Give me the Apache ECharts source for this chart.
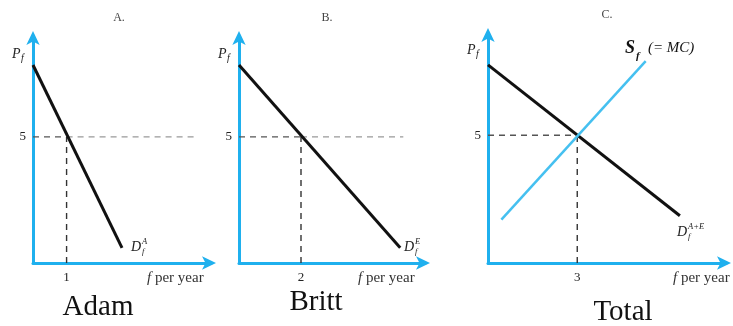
<!DOCTYPE html>
<html>
<head>
<meta charset="utf-8">
<script src="https://cdn.jsdelivr.net/npm/echarts@6/dist/echarts.min.js"></script>
<style>
html,body{margin:0;padding:0;background:#fff;}
#chart{width:733px;height:326px;}
</style>
</head>
<body>
<div id="chart"></div>
<script>
// Panel data
const panelTitles = ['A.', 'B.', 'C.'];
const panelNames = ['Adam', 'Britt', 'Total'];
const priceTick = 5;
const quantityTicks = [1, 2, 3];
// Demand curves [quantity, price]
const demandAdam = [[0, 7.85], [2.65, 0.6]];
const demandBritt = [[0, 7.85], [5.2, 0.6]];
const demandTotal = [[0, 7.75], [6.45, 1.85]];
// Supply curve (= MC)
const supplyTotal = [[0.45, 1.7], [5.3, 7.9]];
// Reference (dashed) guides
const guideAdamH = [[0, 5], [1, 5]];
const guideAdamHfar = [[1, 5], [4.9, 5]];
const guideAdamV = [[1, 0], [1, 5]];
const guideBrittH = [[0, 5], [2, 5]];
const guideBrittHfar = [[2, 5], [5.3, 5]];
const guideBrittV = [[2, 0], [2, 5]];
const guideTotalH = [[0, 5], [3, 5]];
const guideTotalV = [[3, 0], [3, 5]];

const AXIS = '#1fb0ee';
const SUPPLY = '#45c0f0';
const SERIF = '"Liberation Serif","DejaVu Serif",serif';

const chart = echarts.init(document.getElementById('chart'));

const grids = [
  {left: 33, top: 36, width: 178, height: 227},
  {left: 239, top: 36, width: 186, height: 227},
  {left: 488, top: 33, width: 238, height: 230}
];
const xMax = [5.3, 6, 8];

function xAx(i) {
  const t = quantityTicks[i];
  return {
    type: 'value', gridIndex: i, min: 0, max: xMax[i], interval: t,
    axisLine: {show: true, onZero: false, lineStyle: {color: AXIS, width: 3},
      symbol: ['none', 'arrow'], symbolSize: [10, 14], symbolOffset: [0, 5]},
    axisTick: {show: false}, splitLine: {show: false},
    axisLabel: {margin: 8, color: '#222', fontFamily: SERIF, fontSize: 13,
      formatter: v => (Math.abs(v - t) < 1e-9 ? String(t) : '')}
  };
}
function yAx(i) {
  return {
    type: 'value', gridIndex: i, min: 0, max: 9, interval: priceTick,
    axisLine: {show: true, onZero: false, lineStyle: {color: AXIS, width: 3},
      symbol: ['none', 'arrow'], symbolSize: [10, 14], symbolOffset: [0, 5]},
    axisTick: {show: false}, splitLine: {show: false},
    axisLabel: {margin: 7, color: '#222', fontFamily: SERIF, fontSize: 13,
      formatter: v => (v === priceTick ? String(priceTick) : '')}
  };
}

function line(i, data, color, width, type, z) {
  return {
    type: 'line', xAxisIndex: i, yAxisIndex: i, data: data,
    symbol: 'none', silent: true, z: z || 2,
    lineStyle: {color: color, width: width, type: type || 'solid'}
  };
}
const DASH = [6, 5];

const series = [
  line(0, guideAdamH, '#555', 1.4, DASH),
  line(0, guideAdamHfar, '#999', 1.4, DASH),
  line(0, guideAdamV, '#333', 1.4, DASH),
  line(0, demandAdam, '#111', 3, 'solid', 3),
  line(1, guideBrittH, '#555', 1.4, DASH),
  line(1, guideBrittHfar, '#999', 1.4, DASH),
  line(1, guideBrittV, '#333', 1.4, DASH),
  line(1, demandBritt, '#111', 3, 'solid', 3),
  line(2, guideTotalH, '#555', 1.4, DASH),
  line(2, guideTotalV, '#333', 1.4, DASH),
  line(2, demandTotal, '#111', 3, 'solid', 3),
  line(2, supplyTotal, SUPPLY, 2.5, 'solid', 4)
];

function txt(x, y, text, size, opts) {
  return Object.assign({
    type: 'text', x: x, y: y, silent: true,
    style: Object.assign({text: text, fontFamily: SERIF, fontSize: size, fill: '#222',
      align: 'center', verticalAlign: 'middle'}, (opts && opts.style) || {})
  }, opts && opts.el || {});
}
function it(x, y, text, size, align) {
  return txt(x, y, text, size, {style: {fontStyle: 'italic', align: align || 'left'}});
}
function dLabel(x, y, sup) {
  return [
    it(x, y, 'D', 14),
    it(x + 11, y - 5, sup, 8.5),
    it(x + 11, y + 5, 'f', 8.5)
  ];
}
function pLabel(x, y) {
  return [it(x, y, 'P', 14), it(x + 9, y + 4, 'f', 10)];
}
function perYear(x, y) {
  return {
    type: 'text', x: x, y: y, silent: true,
    style: {
      text: '{i|f} per year', fontFamily: SERIF, fontSize: 15, fill: '#333',
      align: 'left', verticalAlign: 'middle',
      rich: {i: {fontStyle: 'italic', fontFamily: SERIF, fontSize: 15, fill: '#333'}}
    }
  };
}

const graphic = [
  txt(119, 18, panelTitles[0], 12, {style: {fill: '#444'}}),
  txt(327, 18, panelTitles[1], 12, {style: {fill: '#444'}}),
  txt(607, 15, panelTitles[2], 12, {style: {fill: '#444'}}),
  txt(98, 307, panelNames[0], 29, {style: {fill: '#111'}}),
  txt(316, 302, panelNames[1], 29, {style: {fill: '#111'}}),
  txt(623, 312, panelNames[2], 29, {style: {fill: '#111'}}),
  ...pLabel(12, 54),
  ...pLabel(218, 54),
  ...pLabel(467, 50),
  perYear(147, 278),
  perYear(358, 278),
  perYear(673, 278),
  ...dLabel(131, 247, 'A'),
  ...dLabel(404, 247, 'E'),
  ...dLabel(677, 232, 'A+E'),
  txt(625, 48, 'S', 18, {style: {fontStyle: 'italic', fontWeight: 'bold', align: 'left', fill: '#111'}}),
  txt(636, 56, 'f', 11, {style: {fontStyle: 'italic', fontWeight: 'bold', align: 'left', fill: '#111'}}),
  txt(648, 48, '(= MC)', 15, {style: {fontStyle: 'italic', align: 'left', fill: '#111'}})
];

chart.setOption({
  animation: false,
  backgroundColor: '#fff',
  grid: grids,
  xAxis: [xAx(0), xAx(1), xAx(2)],
  yAxis: [yAx(0), yAx(1), yAx(2)],
  series: series,
  graphic: graphic
});
</script>
</body>
</html>
